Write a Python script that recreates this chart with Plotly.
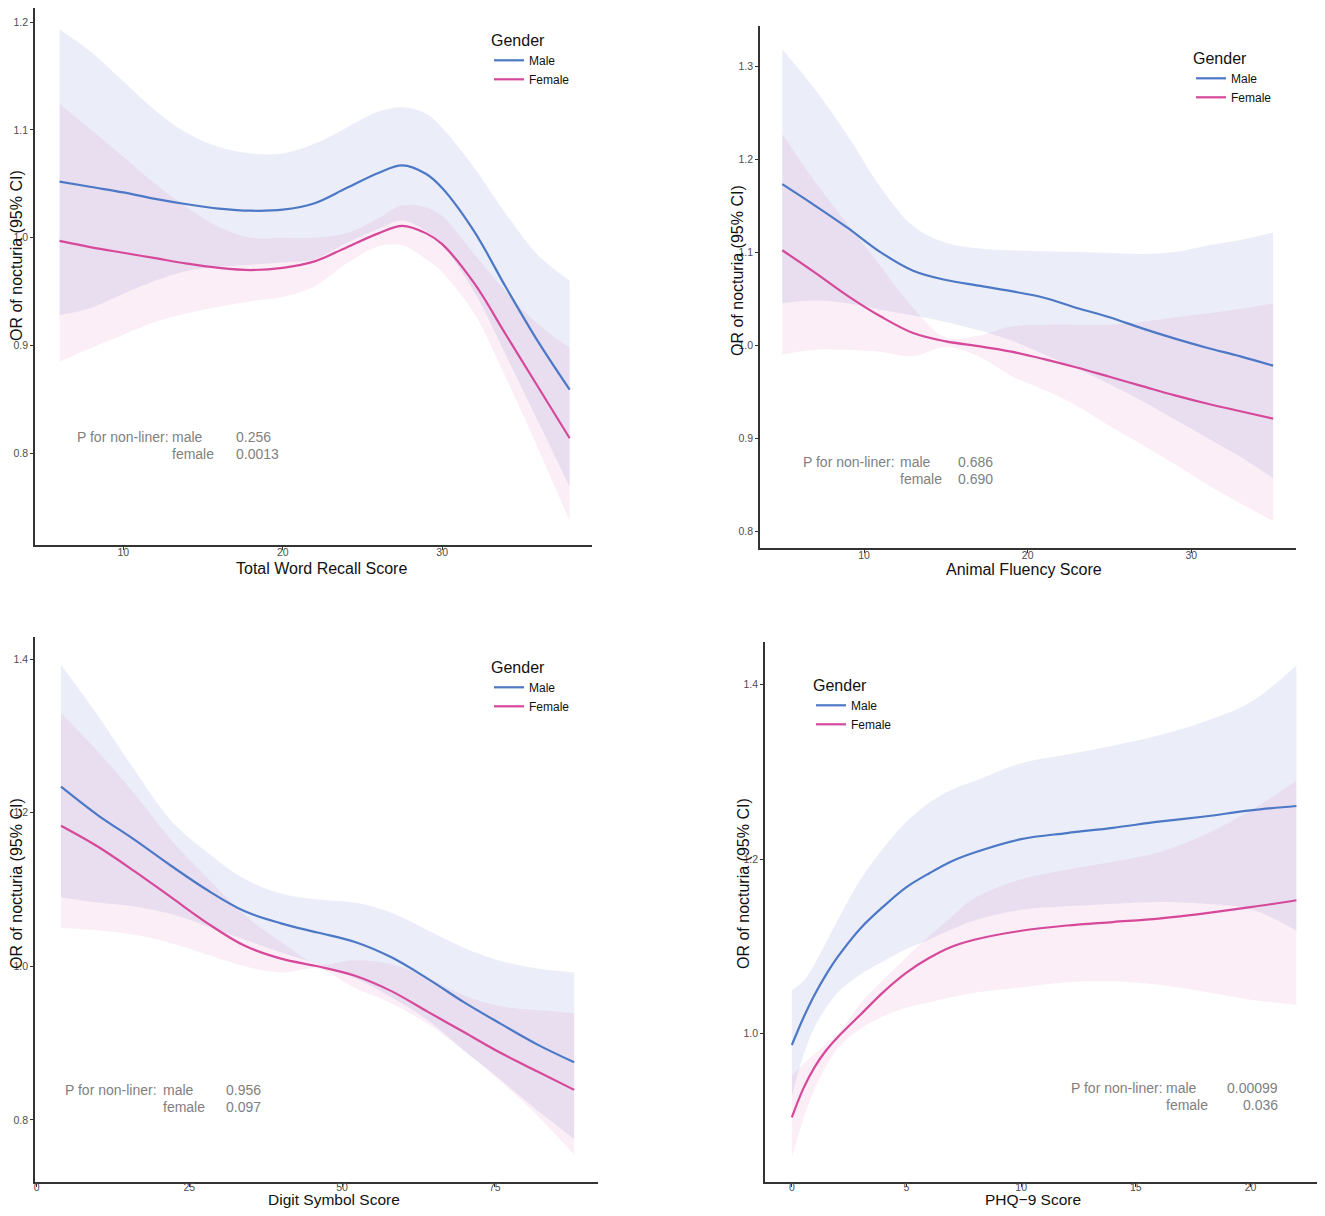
import plotly.graph_objects as go

# ---- data (OR of nocturia, 95% CI) ----

# Total Word Recall Score
wr_x = [6, 8, 10, 12, 14, 16, 18, 20, 22, 24, 26, 27.5, 29, 30, 32, 34, 36, 38]
wr_male = [1.052, 1.047, 1.042, 1.036, 1.031, 1.027, 1.025, 1.026, 1.032, 1.046, 1.060, 1.067,
           1.059, 1.046, 1.006, 0.954, 0.904, 0.859]
wr_male_hi = [1.193, 1.172, 1.145, 1.118, 1.097, 1.084, 1.078, 1.078, 1.087, 1.102, 1.117, 1.121,
              1.115, 1.102, 1.065, 1.022, 0.984, 0.960]
wr_male_lo = [0.928, 0.935, 0.948, 0.960, 0.969, 0.973, 0.975, 0.977, 0.980, 0.995, 1.008, 1.016,
              1.006, 0.993, 0.950, 0.891, 0.830, 0.769]
wr_female = [0.997, 0.991, 0.986, 0.981, 0.976, 0.972, 0.970, 0.972, 0.978, 0.991, 1.004, 1.011,
             1.004, 0.994, 0.958, 0.910, 0.862, 0.814]
wr_female_hi = [1.124, 1.100, 1.075, 1.050, 1.028, 1.010, 1.000, 1.000, 1.000, 1.004, 1.018, 1.030,
                1.028, 1.020, 0.985, 0.950, 0.920, 0.898]
wr_female_lo = [0.885, 0.898, 0.910, 0.922, 0.930, 0.936, 0.941, 0.945, 0.955, 0.976, 0.992, 0.993,
                0.980, 0.968, 0.930, 0.870, 0.805, 0.737]
wr_p = ["0.256", "0.0013"]

# Animal Fluency Score
af_x = [5, 7, 9, 11, 13, 15, 17, 19, 21, 23, 25, 27, 29, 31, 33, 35]
af_male = [1.173, 1.150, 1.126, 1.100, 1.080, 1.070, 1.064, 1.058, 1.051, 1.040, 1.030, 1.018,
           1.007, 0.997, 0.988, 0.978]
af_male_hi = [1.318, 1.275, 1.225, 1.170, 1.128, 1.110, 1.104, 1.102, 1.101, 1.100, 1.099, 1.098,
              1.100, 1.107, 1.113, 1.121]
af_male_lo = [1.045, 1.048, 1.045, 1.038, 1.032, 1.025, 1.016, 1.005, 0.990, 0.975, 0.958, 0.940,
              0.920, 0.900, 0.880, 0.857]
af_female = [1.102, 1.078, 1.053, 1.031, 1.013, 1.004, 0.999, 0.993, 0.985, 0.976, 0.966, 0.956,
             0.946, 0.937, 0.929, 0.921]
af_female_hi = [1.227, 1.176, 1.130, 1.085, 1.040, 1.008, 1.010, 1.020, 1.022, 1.022, 1.022, 1.025,
                1.030, 1.034, 1.039, 1.045]
af_female_lo = [0.990, 0.995, 0.995, 0.993, 0.988, 0.998, 0.988, 0.967, 0.952, 0.935, 0.913, 0.893,
                0.872, 0.850, 0.830, 0.811]
af_p = ["0.686", "0.690"]

# Digit Symbol Score
ds_x = [4, 10, 16, 22, 28, 34, 40, 46, 52, 58, 64, 70, 76, 82, 88]
ds_male = [1.234, 1.197, 1.165, 1.131, 1.099, 1.072, 1.056, 1.044, 1.032, 1.012, 0.984, 0.953,
           0.925, 0.898, 0.875]
ds_male_hi = [1.393, 1.327, 1.256, 1.190, 1.148, 1.114, 1.095, 1.087, 1.083, 1.070, 1.047, 1.024,
              1.007, 0.997, 0.992]
ds_male_lo = [1.090, 1.083, 1.078, 1.068, 1.052, 1.035, 1.018, 1.003, 0.985, 0.960, 0.930, 0.890,
              0.852, 0.812, 0.775]
ds_female = [1.183, 1.156, 1.124, 1.090, 1.056, 1.027, 1.010, 1.000, 0.988, 0.968, 0.941, 0.914,
             0.887, 0.863, 0.839]
ds_female_hi = [1.330, 1.280, 1.225, 1.165, 1.115, 1.067, 1.032, 1.003, 1.008, 1.003, 0.985, 0.962,
                0.948, 0.943, 0.939]
ds_female_lo = [1.050, 1.047, 1.041, 1.030, 1.015, 1.000, 0.992, 0.997, 0.972, 0.952, 0.925, 0.890,
                0.850, 0.805, 0.755]
ds_p = ["0.956", "0.097"]

# PHQ-9 Score
phq_x = [0, 0.5, 1, 1.5, 2, 3, 4, 5, 6, 7, 8, 10, 12, 14, 16, 18, 20, 22]
phq_male = [0.987, 1.018, 1.045, 1.068, 1.088, 1.121, 1.146, 1.168, 1.184, 1.198, 1.208, 1.223,
            1.230, 1.236, 1.243, 1.249, 1.256, 1.261]
phq_male_hi = [1.050, 1.060, 1.080, 1.105, 1.130, 1.177, 1.213, 1.243, 1.265, 1.280, 1.290, 1.310,
               1.320, 1.330, 1.342, 1.358, 1.380, 1.422]
phq_male_lo = [0.928, 0.975, 1.008, 1.030, 1.047, 1.068, 1.083, 1.097, 1.108, 1.120, 1.130, 1.142,
               1.146, 1.149, 1.151, 1.149, 1.143, 1.118]
phq_female = [0.904, 0.937, 0.962, 0.981, 0.996, 1.022, 1.048, 1.070, 1.087, 1.100, 1.108, 1.118,
              1.124, 1.128, 1.132, 1.138, 1.145, 1.153]
phq_female_hi = [0.952, 0.965, 0.977, 0.988, 0.999, 1.035, 1.062, 1.088, 1.112, 1.135, 1.156, 1.177,
                 1.188, 1.197, 1.208, 1.228, 1.256, 1.290]
phq_female_lo = [0.858, 0.902, 0.937, 0.963, 0.983, 1.006, 1.020, 1.030, 1.036, 1.042, 1.047, 1.053,
                 1.059, 1.060, 1.056, 1.048, 1.039, 1.033]
phq_p = ["0.00099", "0.036"]

x_titles = ["Total Word Recall Score", "Animal Fluency Score", "Digit Symbol Score", "PHQ\u22129 Score"]
y_title = "OR of nocturia (95% CI)"

MALE = "#4C78C6"
FEMALE = "#D6489A"
MALE_FILL = "rgba(100,120,205,0.13)"
FEMALE_FILL = "rgba(215,90,165,0.10)"
FONT = "Arial, Liberation Sans, sans-serif"
GREY_TXT = "#7f7f7f"

# page body has an 8px margin, so the figure is a bit smaller than the window
PAGE_OFF = 8
W, H = 1325 - 2 * PAGE_OFF, 1216 - 2 * PAGE_OFF


def px_x(p):
    return min(max((p - PAGE_OFF) / W, 0), 1)


def px_y(p):
    return min(max(1 - (p - PAGE_OFF) / H, 0), 1)


# pixel boxes of each panel in the target picture: left, right, top, bottom
panels = [
    dict(box=(35, 592, 8, 545), xr=[4.46, 39.4], yr=[0.715, 1.213],
         xt=[10, 20, 30], yt=[0.8, 0.9, 1.0, 1.1, 1.2], standoff=-6),
    dict(box=(760, 1296, 26, 548), xr=[3.64, 36.4], yr=[0.782, 1.343],
         xt=[10, 20, 30], yt=[0.8, 0.9, 1.0, 1.1, 1.2, 1.3], standoff=-6),
    dict(box=(35, 598, 637, 1182), xr=[-0.26, 91.9], yr=[0.719, 1.429],
         xt=[0, 25, 50, 75], yt=[0.8, 1.0, 1.2, 1.4], standoff=-8),
    dict(box=(765, 1317, 642, 1182), xr=[-1.17, 22.9], yr=[0.830, 1.449],
         xt=[0, 5, 10, 15, 20], yt=[1.0, 1.2, 1.4], standoff=-8),
]

series = [
    (wr_x, wr_male, wr_male_lo, wr_male_hi, wr_female, wr_female_lo, wr_female_hi),
    (af_x, af_male, af_male_lo, af_male_hi, af_female, af_female_lo, af_female_hi),
    (ds_x, ds_male, ds_male_lo, ds_male_hi, ds_female, ds_female_lo, ds_female_hi),
    (phq_x, phq_male, phq_male_lo, phq_male_hi, phq_female, phq_female_lo, phq_female_hi),
]

# text block positions (data coords): label x, male/female x, value x, value anchor, y1, y2
p_pos = [
    (6.97, 12.95, 16.95, "left", 0.815, 0.7993),
    (6.16, 12.08, 15.62, "left", 0.874, 0.856),
    (4.3, 20.3, 30.6, "left", 0.839, 0.8164),
    (12.1, 16.25, 21.27, "right", 0.9375, 0.9187),
]
p_vals = [wr_p, af_p, ds_p, phq_p]

# legend boxes (px): left, top
legend_pos = [(489, 25), (1191, 43), (489, 652), (811, 670)]
# axis title centres (px) and font size
xtitle_pos = [(321, 568, 16), (1024, 570, 16), (334, 1199, 15.5), (1033, 1199, 15.5)]
ytitle_pos = [(16, 256), (737, 271), (16, 884), (743, 884)]

fig = go.Figure()
annotations = []
layout = {}

for i, (pan, ser) in enumerate(zip(panels, series)):
    n = i + 1
    sfx = "" if n == 1 else str(n)
    xa, ya = "x" + sfx, "y" + sfx
    leg = "legend" + sfx
    x, m, m_lo, m_hi, f, f_lo, f_hi = ser

    # CI ribbons
    for lo, hi, fc in [(m_lo, m_hi, MALE_FILL), (f_lo, f_hi, FEMALE_FILL)]:
        fig.add_trace(go.Scatter(x=x, y=lo, mode="lines", xaxis=xa, yaxis=ya,
                                 line=dict(width=0, shape="spline", color="rgba(0,0,0,0)"),
                                 showlegend=False, hoverinfo="skip"))
        fig.add_trace(go.Scatter(x=x, y=hi, mode="lines", xaxis=xa, yaxis=ya, fill="tonexty",
                                 fillcolor=fc,
                                 line=dict(width=0, shape="spline", color="rgba(0,0,0,0)"),
                                 showlegend=False, hoverinfo="skip"))
    # fitted lines
    fig.add_trace(go.Scatter(x=x, y=m, mode="lines", name="Male", xaxis=xa, yaxis=ya, legend=leg,
                             line=dict(color=MALE, width=2.2, shape="spline")))
    fig.add_trace(go.Scatter(x=x, y=f, mode="lines", name="Female", xaxis=xa, yaxis=ya, legend=leg,
                             line=dict(color=FEMALE, width=2.2, shape="spline")))

    l, r, t, b = pan["box"]
    axis_common = dict(showline=True, linecolor="#333333", linewidth=1.6, ticks="outside",
                       ticklen=3, tickwidth=1, tickcolor="#333333", showgrid=False,
                       zeroline=False, tickfont=dict(family=FONT, size=10.5, color="#4d4d4d"))
    layout["xaxis" + sfx] = dict(axis_common, domain=[px_x(l), px_x(r)], range=pan["xr"],
                                 tickvals=pan["xt"], anchor=ya, ticklabelstandoff=pan["standoff"])
    layout["yaxis" + sfx] = dict(axis_common, domain=[px_y(b), px_y(t)], range=pan["yr"],
                                 tickvals=pan["yt"], ticktext=["%.1f" % v for v in pan["yt"]],
                                 anchor=xa)

    lx, ly = legend_pos[i]
    layout[leg] = dict(x=px_x(lx), y=px_y(ly), xanchor="left", yanchor="top",
                       traceorder="normal", bgcolor="rgba(0,0,0,0)", itemwidth=30,
                       tracegroupgap=0,
                       title=dict(text="Gender", font=dict(family=FONT, size=16, color="#111111")),
                       font=dict(family=FONT, size=12, color="#111111"))

    # axis titles
    tx, ty, tsize = xtitle_pos[i]
    annotations.append(dict(x=px_x(tx), y=px_y(ty), xref="paper", yref="paper", text=x_titles[i],
                            xanchor="center", yanchor="middle", showarrow=False,
                            font=dict(family=FONT, size=tsize, color="#111111")))
    tx, ty = ytitle_pos[i]
    annotations.append(dict(x=px_x(tx), y=px_y(ty), xref="paper", yref="paper", text=y_title,
                            xanchor="center", yanchor="middle", textangle=-90, showarrow=False,
                            font=dict(family=FONT, size=16, color="#111111")))

    # P for non-linearity
    lab_x, mf_x, val_x, val_anchor, y1, y2 = p_pos[i]
    ptxt = dict(xref=xa, yref=ya, showarrow=False, yanchor="middle",
                font=dict(family=FONT, size=14, color=GREY_TXT))
    annotations.append(dict(ptxt, x=lab_x, y=y1, text="P for non-liner:", xanchor="left"))
    annotations.append(dict(ptxt, x=mf_x, y=y1, text="male", xanchor="left"))
    annotations.append(dict(ptxt, x=mf_x, y=y2, text="female", xanchor="left"))
    annotations.append(dict(ptxt, x=val_x, y=y1, text=p_vals[i][0], xanchor=val_anchor))
    annotations.append(dict(ptxt, x=val_x, y=y2, text=p_vals[i][1], xanchor=val_anchor))

fig.update_layout(**layout)
fig.update_layout(width=W, height=H, margin=dict(l=0, r=0, t=0, b=0),
                  plot_bgcolor="white", paper_bgcolor="white",
                  annotations=annotations, font=dict(family=FONT))

fig.write_html("out.html")
